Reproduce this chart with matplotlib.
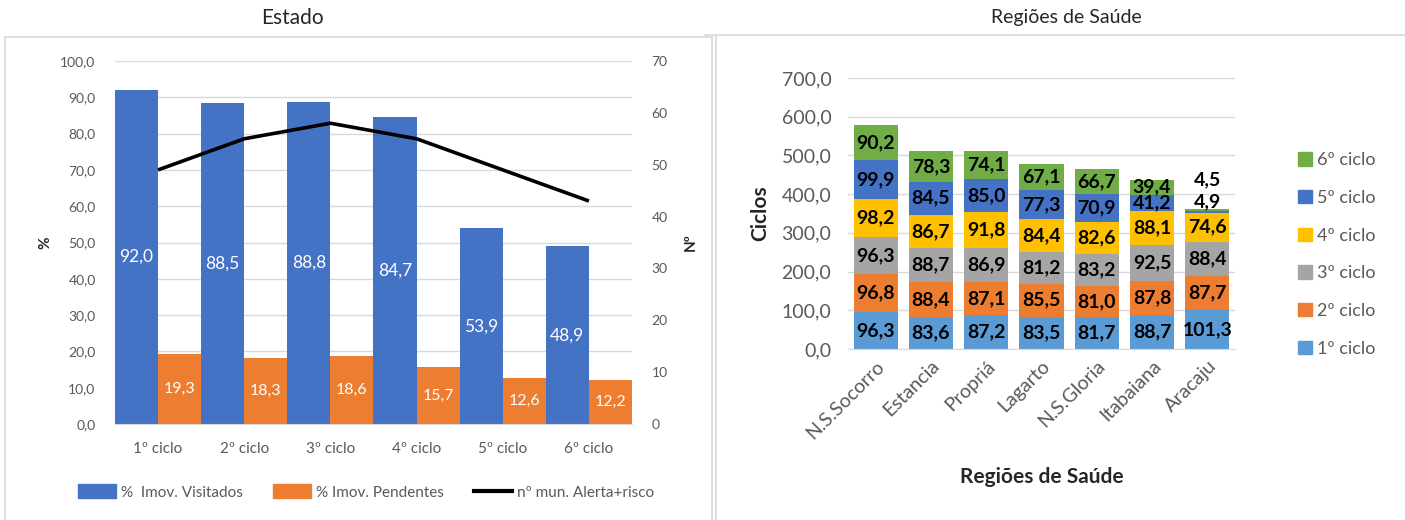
import matplotlib
matplotlib.use("Agg")
import matplotlib.pyplot as plt
from matplotlib.lines import Line2D
from matplotlib.patches import Patch
import numpy as np

plt.rcParams['font.family'] = ['Lato', 'DejaVu Sans']

# ---- State panel data ----
ciclos = ["1º ciclo", "2º ciclo", "3º ciclo", "4º ciclo", "5º ciclo", "6º ciclo"]
visitados = [92.0, 88.5, 88.8, 84.7, 53.9, 48.9]
pendentes = [19.3, 18.3, 18.6, 15.7, 12.6, 12.2]
mun_alerta = [49, 55, 58, 55, 49, 43]

# ---- Health regions panel data ----
regioes = ["N.S.Socorro", "Estancia", "Propriá", "Lagarto", "N.S.Gloria", "Itabaiana", "Aracaju"]
ciclo1 = [96.3, 83.6, 87.2, 83.5, 81.7, 88.7, 101.3]
ciclo2 = [96.8, 88.4, 87.1, 85.5, 81.0, 87.8, 87.7]
ciclo3 = [96.3, 88.7, 86.9, 81.2, 83.2, 92.5, 88.4]
ciclo4 = [98.2, 86.7, 91.8, 84.4, 82.6, 88.1, 74.6]
ciclo5 = [99.9, 84.5, 85.0, 77.3, 70.9, 41.2, 4.9]
ciclo6 = [90.2, 78.3, 74.1, 67.1, 66.7, 39.4, 4.5]
serie_nomes = ["1º ciclo", "2º ciclo", "3º ciclo", "4º ciclo", "5º ciclo", "6º ciclo"]

BLUE = "#4472C4"
ORANGE = "#ED7D31"
GRAY_TXT = "#595959"
GRID = "#D9D9D9"
stack_colors = ["#5B9BD5", "#ED7D31", "#A5A5A5", "#FFC000", "#4472C4", "#70AD47"]

W, H = 1405, 520
fig = plt.figure(figsize=(W / 100, H / 100), dpi=100)
fig.patch.set_facecolor("white")


def px_axes(x0, y0, x1, y1):
    """Axes placed by pixel box (top-left origin)."""
    return fig.add_axes([x0 / W, 1 - y1 / H, (x1 - x0) / W, (y1 - y0) / H])


def fmt(v):
    return f"{v:.1f}".replace(".", ",")


# panel frames
frame_kw = dict(color="#D9D9D9", lw=1.2, transform=fig.transFigure)
def fline(xs, ys):
    fig.add_artist(Line2D([x / W for x in xs], [1 - y / H for y in ys], **frame_kw))

fline([5, 712], [37, 37])
fline([5, 5], [37, 519])
fline([712, 712], [37, 519])
fline([705, 1405], [35, 35])
fline([716, 716], [35, 520])

fig.text(292 / W, 1 - 18 / H, "Estado", ha="center", va="center", fontsize=15, color="#262626")
fig.text(1066 / W, 1 - 18 / H, "Regiões de Saúde", ha="center", va="center", fontsize=14, color="#262626")

# ================= Left: Estado =================
ax = px_axes(115, 61, 632, 424)
x = np.arange(len(ciclos))
bw = 0.5
b1 = ax.bar(x - bw / 2, visitados, bw, color=BLUE, zorder=2, label="%  Imov. Visitados")
b2 = ax.bar(x + bw / 2, pendentes, bw, color=ORANGE, zorder=2, label="% Imov. Pendentes")
for rect, v in zip(b1, visitados):
    ax.text(rect.get_x() + rect.get_width() / 2, v / 2, fmt(v), ha="center", va="center",
            color="white", fontsize=12.5, zorder=4)
for rect, v in zip(b2, pendentes):
    ax.text(rect.get_x() + rect.get_width() / 2, v / 2, fmt(v), ha="center", va="center",
            color="white", fontsize=11.5, zorder=4)

ax.set_xlim(-0.5, len(ciclos) - 0.5)
ax.set_ylim(0, 100)
ax.set_yticks(np.arange(0, 101, 10))
ax.set_yticklabels([fmt(v) for v in np.arange(0, 101, 10)])
ax.yaxis.grid(True, color=GRID, lw=1, zorder=0)
ax.set_axisbelow(True)
ax.set_xticks(x)
ax.set_xticklabels(ciclos)
for s in ["top", "right", "left"]:
    ax.spines[s].set_visible(False)
ax.spines["bottom"].set_color(GRID)
ax.tick_params(axis="both", length=0, labelsize=10, colors=GRAY_TXT)
ax.tick_params(axis="x", labelsize=11, pad=13)
ax.tick_params(axis="y", pad=14)
ax.set_ylabel("%", fontsize=11, fontweight="bold", color="#262626", labelpad=6)

ax2 = ax.twinx()
ax2.plot(x, mun_alerta, color="black", lw=2.6, zorder=5, label="nº mun. Alerta+risco",
         solid_capstyle="butt")
ax2.set_ylim(0, 70)
ax2.set_yticks(np.arange(0, 71, 10))
for s in ["top", "right", "left", "bottom"]:
    ax2.spines[s].set_visible(False)
ax2.tick_params(axis="y", length=0, labelsize=10, colors=GRAY_TXT, pad=14)
ax2.set_ylabel("Nº", fontsize=11, fontweight="bold", color="#262626", rotation=90, labelpad=12)

handles = [Patch(color=BLUE), Patch(color=ORANGE), Line2D([0], [0], color="black", lw=3)]
labels = ["%  Imov. Visitados", "% Imov. Pendentes", "nº mun. Alerta+risco"]
fig.legend(handles, labels, loc="center", bbox_to_anchor=(366 / W, 1 - 492 / H), ncol=3,
           frameon=False, fontsize=11, labelcolor=GRAY_TXT, handlelength=2.5,
           handleheight=1.0, handletextpad=0.3, columnspacing=2.0)

# ================= Right: Regiões de Saúde =================
bx = px_axes(848, 78, 1235, 349)
xr = np.arange(len(regioes))
series = [ciclo1, ciclo2, ciclo3, ciclo4, ciclo5, ciclo6]
bottom = np.zeros(len(regioes))
bars = []
for vals, col, nome in zip(series, stack_colors, serie_nomes):
    b = bx.bar(xr, vals, 0.8, bottom=bottom, color=col, zorder=2, label=nome)
    bars.append((b, np.array(vals), bottom.copy()))
    bottom = bottom + np.array(vals)

totals = bottom
for si, (b, vals, base) in enumerate(bars):
    for i, v in enumerate(vals):
        if v < 20:
            # thin top segments: labels lifted above the stack
            lift = 7 if si == 4 else 29
            bx.annotate(fmt(v), (xr[i], totals[i]), xytext=(0, lift), textcoords="offset pixels",
                        ha="center", va="center", fontsize=14, fontweight="bold", color="black",
                        zorder=5)
        else:
            bx.text(xr[i], base[i] + v / 2, fmt(v), ha="center", va="center",
                    fontsize=14, fontweight="bold", color="black", zorder=5)

bx.set_xlim(-0.5, len(regioes) - 0.5)
bx.set_ylim(0, 700)
bx.set_yticks(np.arange(0, 701, 100))
bx.set_yticklabels([fmt(v) for v in np.arange(0, 701, 100)])
bx.yaxis.grid(True, color=GRID, lw=1, zorder=0)
bx.set_axisbelow(True)
bx.set_xticks(xr)
bx.set_xticklabels(regioes, rotation=45, ha="right", rotation_mode="anchor")
for s in ["top", "right", "left"]:
    bx.spines[s].set_visible(False)
bx.spines["bottom"].set_color(GRID)
bx.tick_params(axis="both", length=0, labelsize=14, colors=GRAY_TXT)
bx.tick_params(axis="y", pad=12)
bx.tick_params(axis="x", pad=6)
bx.set_ylabel("Ciclos", fontsize=15, fontweight="bold", color="#262626", labelpad=8)
bx.set_xlabel("Regiões de Saúde", fontsize=15, fontweight="bold", color="#262626", labelpad=18)

lh = [Patch(color=c) for c in stack_colors][::-1]
ll = serie_nomes[::-1]
fig.legend(lh, ll, loc="upper left", bbox_to_anchor=(1282 / W, 1 - 136 / H), frameon=False,
           fontsize=13, labelcolor=GRAY_TXT, handlelength=0.75, handleheight=0.75,
           handletextpad=0.3, labelspacing=1.2)

fig.savefig("out.png", dpi=100, facecolor="white")
